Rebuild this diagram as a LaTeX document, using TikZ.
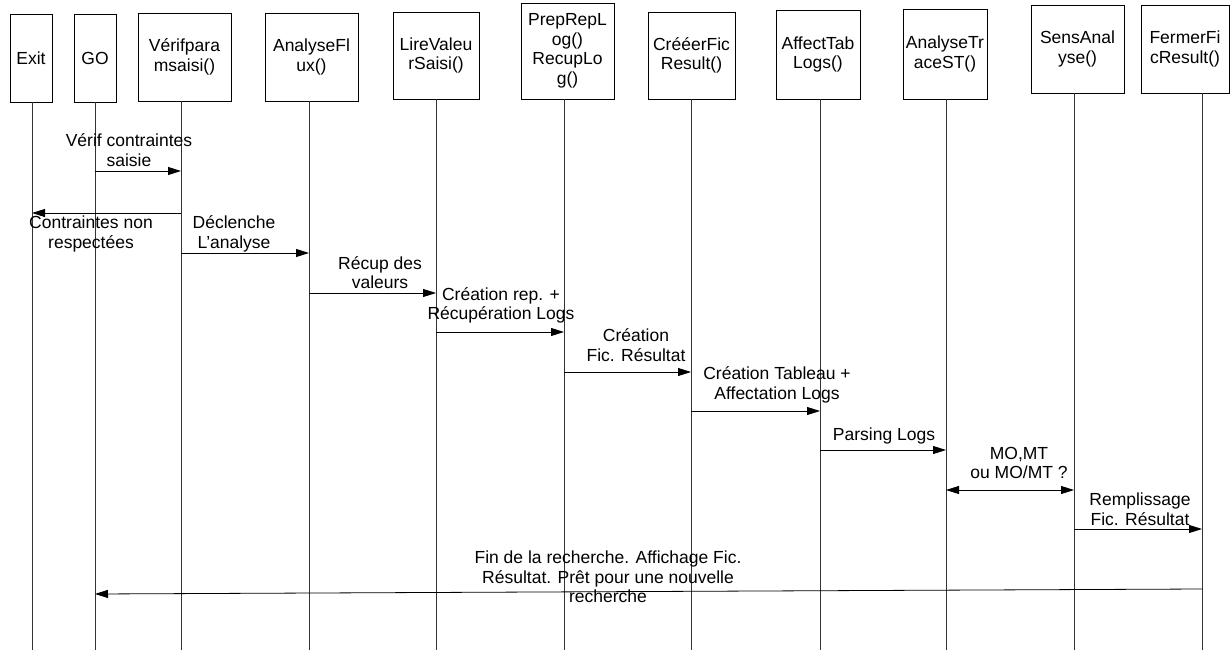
\documentclass[tikz,border=0pt]{standalone}
\usepackage{fontspec}
\setmainfont{Liberation Sans}
\usetikzlibrary{arrows.meta}
\begin{document}
\begin{tikzpicture}[x=1pt,y=-1pt,
  obj/.style={draw, line width=0.8pt, align=center, inner sep=2pt, font=\fontsize{17.5}{19.5}\selectfont},
  life/.style={line width=0.8pt, black!80},
  msg/.style={line width=0.8pt, -{Triangle[length=13pt,width=8pt]}},
  dmsg/.style={line width=0.8pt, {Triangle[length=13pt,width=8pt]}-{Triangle[length=13pt,width=8pt]}},
  lbl/.style={align=center, inner sep=0pt, font=\fontsize{17.5}{19.5}\selectfont}]
\useasboundingbox (0,0) rectangle (1231,650);
\fill[white] (0,0) rectangle (1231,650);
% objects
\node[obj, minimum width=42pt, minimum height=88pt] (exit) at (31,58) {Exit};
\node[obj, minimum width=42pt, minimum height=88pt] (go) at (95,58) {GO};
\node[obj, minimum width=93pt, minimum height=88pt] (ver) at (184.5,57) {Vérifpara\\msaisi()};
\node[obj, minimum width=93pt, minimum height=88pt] (ana) at (311.5,57) {AnalyseFl\\ux()};
\node[obj, minimum width=86pt, minimum height=87pt] (lire) at (436,55.5) {LireValeu\\rSaisi()};
\node[obj, minimum width=93pt, minimum height=96pt] (prep) at (567.5,51) {PrepRepL\\og()\\RecupLo\\g()};
\node[obj, minimum width=87pt, minimum height=87pt] (cree) at (691.5,55.5) {CrééerFic\\Result()};
\node[obj, minimum width=84pt, minimum height=89pt] (aff) at (818,54.5) {AffectTab\\Logs()};
\node[obj, minimum width=84pt, minimum height=90pt] (atr) at (945,54) {AnalyseTr\\aceST()};
\node[obj, minimum width=93pt, minimum height=88pt] (sens) at (1077.5,49) {SensAnal\\yse()};
\node[obj, minimum width=88pt, minimum height=88pt] (fer) at (1185,49) {FermerFi\\cResult()};
% lifeline ends
\coordinate (Lexit) at (32,650);
\coordinate (Lgo) at (95,650);
\coordinate (Lver) at (181,650);
\coordinate (Lana) at (309,650);
\coordinate (Llire) at (436,650);
\coordinate (Lprep) at (564,650);
\coordinate (Lcree) at (691,650);
\coordinate (Laff) at (820,650);
\coordinate (Latr) at (946,650);
\coordinate (Lsens) at (1074,650);
\coordinate (Lfer) at (1202,650);
\foreach \o/\l in {exit/Lexit,go/Lgo,ver/Lver,ana/Lana,lire/Llire,prep/Lprep,cree/Lcree,aff/Laff,atr/Latr,sens/Lsens,fer/Lfer}
  \draw[life] (\o.south -| \l) -- (\l);
% messages
\draw[msg] (Lgo |- 0,171) -- (Lver |- 0,171);
\draw[msg] (Lver |- 0,213) -- (Lexit |- 0,213);
\draw[msg] (Lver |- 0,253) -- (Lana |- 0,253);
\draw[msg] (Lana |- 0,293) -- (Llire |- 0,293);
\draw[msg] (Llire |- 0,332) -- (Lprep |- 0,332);
\draw[msg] (Lprep |- 0,372) -- (Lcree |- 0,372);
\draw[msg] (Lcree |- 0,411) -- (Laff |- 0,411);
\draw[msg] (Laff |- 0,450) -- (Latr |- 0,450);
\draw[dmsg] (Latr |- 0,490) -- (Lsens |- 0,490);
\draw[msg] (Lsens |- 0,529) -- (Lfer |- 0,529);
\draw[msg] (Lfer |- 0,589) -- (Lgo |- 0,594);
% labels
\node[lbl] (m1) at (129,150) {Vérif contraintes\\saisie};
\node[lbl] (m2) at (91,234) {Contraintes non\\respectées};
\node[lbl] (m3) at (234,234) {Déclenche\\L’analyse};
\node[lbl] (m4) at (380,272.5) {Récup des\\valeurs};
\node[lbl] (m5) at (501,305.5) {Création rep. +\\Récupération Logs};
\node[lbl] (m6) at (636,345) {Création\\Fic. Résultat};
\node[lbl] (m7) at (777,385) {Création Tableau +\\Affectation Logs};
\node[lbl] (m8) at (884,436) {Parsing Logs};
\node[lbl] (m9) at (1019,463) {MO,MT\\ou MO/MT ?};
\node[lbl] (m10) at (1140,509) {Remplissage\\Fic. Résultat};
\node[lbl] (m11) at (608,577) {Fin de la recherche. Affichage Fic.\\Résultat. Prêt pour une nouvelle\\recherche};
\end{tikzpicture}
\end{document}
